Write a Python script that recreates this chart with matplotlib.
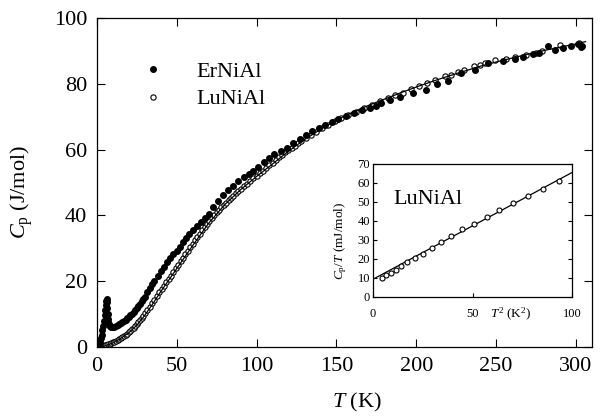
import matplotlib
matplotlib.use("Agg")
import matplotlib.pyplot as plt

plt.rcParams['font.family'] = ['Liberation Serif', 'DejaVu Serif']
plt.rcParams['mathtext.fontset'] = 'custom'
plt.rcParams['mathtext.rm'] = 'Liberation Serif'
plt.rcParams['mathtext.it'] = 'Liberation Serif:italic'

# ---------------- main panel data ----------------
er_T = [1.5, 2, 2.5, 3, 3.5, 4, 4.5, 5, 5.3, 5.6, 5.9, 6.1, 6.3, 6.5, 6.7, 6.9, 7.2, 7.6, 8, 8.5,
        9, 9.5, 10, 11, 12, 13, 14, 15, 16, 17, 18, 19, 20, 21, 22, 23, 24, 25, 26, 27,
        28, 29, 30, 31.5, 33, 34.5, 36, 38, 40, 42, 44, 46, 48, 50, 52, 54, 56, 58, 60, 62.5,
        65, 67.5, 70, 73, 76, 79, 82, 85, 88.5, 92, 95.5, 98, 101, 104.5, 107.5, 111, 115, 119, 123, 127,
        131, 135, 139, 143, 147, 151, 156, 161, 166, 171, 175, 178, 183.5, 190, 198, 206, 212.7, 220, 228, 236.7,
        245, 254, 262, 267, 273, 277, 282.7, 287, 292, 297, 301, 303, 304]
er_Cp = [0.8, 1.6, 2.6, 3.7, 5.0, 6.5, 8.0, 9.7, 11.2, 12.7, 14.0, 14.6, 13.6, 11.8, 10.0, 8.6, 7.6, 6.9, 6.5, 6.3,
         6.2, 6.1, 6.1, 6.2, 6.4, 6.6, 6.9, 7.2, 7.5, 7.9, 8.3, 8.7, 9.1, 9.6, 10.1, 10.7, 11.3, 11.9, 12.5, 13.2,
         13.9, 14.6, 15.3, 16.6, 17.8, 19.0, 20.1, 21.5, 23.0, 24.4, 25.7, 27.0, 28.2, 29.3, 30.5, 31.8, 33.0, 34.3, 35.5, 36.8,
         37.9, 39.2, 40.4, 42.6, 44.5, 46.3, 47.6, 48.9, 50.3, 51.6, 52.6, 53.5, 54.7, 56.2, 57.3, 58.5, 59.5, 60.6, 62.0, 63.3,
         64.4, 65.5, 66.4, 67.4, 68.3, 69.2, 70.2, 71.2, 72.0, 72.6, 73.2, 74.2, 75.2, 76.0, 77.2, 78.2, 79.8, 80.8, 83.3, 84.3,
         86.4, 86.8, 87.6, 88.1, 89.1, 89.3, 91.6, 90.3, 91.0, 91.5, 92.0, 91.3, 91.6]

lu_T = [2, 3, 4, 5, 6, 7, 8, 9, 10, 11, 12, 13, 14, 15, 16, 17, 18, 19, 20, 21,
        22, 23, 24, 25, 26, 27, 28, 29, 30, 31.5, 33, 34.5, 36, 37.5, 39, 40.5, 42, 43.5, 45, 46.5,
        48, 49.5, 51, 52.5, 54, 55.5, 57, 58.5, 60, 61.5, 63, 64.5, 66, 67.5, 69, 70.5, 72, 73.5, 75, 76.5,
        78, 79.5, 81, 82.5, 84, 85.5, 87, 88.5, 90, 92, 94, 96, 98, 100, 102, 104, 106, 108, 110, 112,
        114, 116, 118, 120, 122, 124, 126, 128, 131, 134, 137, 141, 145, 149, 153, 157, 162, 167, 172, 177,
        182, 187, 192, 197, 202, 207, 212, 218, 222, 226, 230, 236, 240, 243, 249, 256, 262, 269, 275, 279,
        290, 302]
lu_Cp = [0.1, 0.2, 0.3, 0.45, 0.6, 0.8, 1.0, 1.2, 1.4, 1.6, 1.9, 2.2, 2.5, 2.8, 3.1, 3.4, 3.7, 4.0, 4.4, 4.9,
         5.4, 5.9, 6.5, 7.0, 7.6, 8.2, 8.9, 9.5, 10.2, 11.2, 12.2, 13.3, 14.4, 15.5, 16.6, 17.6, 18.6, 19.6, 20.6, 21.7,
         22.8, 23.9, 25.0, 26.0, 27.1, 28.2, 29.3, 30.4, 31.4, 32.4, 33.4, 34.4, 35.4, 36.4, 37.4, 38.3, 39.2, 40.0, 40.9, 41.7,
         42.5, 43.2, 43.9, 44.6, 45.3, 46.0, 46.7, 47.4, 48.0, 48.8, 49.6, 50.4, 51.2, 52.0, 52.8, 53.6, 54.4, 55.2, 56.0, 56.8,
         57.6, 58.4, 59.1, 59.8, 60.5, 61.2, 61.9, 62.5, 63.5, 64.5, 65.4, 66.5, 67.6, 68.6, 69.5, 70.4, 71.5, 72.6, 73.6, 74.7,
         75.6, 76.5, 77.3, 78.4, 79.3, 80.2, 81.0, 82.2, 82.8, 83.6, 84.3, 85.3, 85.8, 86.4, 87.2, 87.5, 88.2, 88.6, 89.4, 89.9,
         91.9, 92.4]

fit_T = [0, 5, 10, 15, 20, 25, 30, 35, 40, 45, 50, 60, 70, 80, 90, 100, 110, 120, 130, 140,
         150, 160, 170, 180, 190, 200, 210, 220, 230, 240, 250, 260, 270, 280, 290, 300, 306]
fit_Cp = [0, 0.3, 1.2, 2.6, 4.3, 6.6, 9.6, 13.1, 16.8, 20.3, 23.8, 30.8, 37.6, 43.2, 47.8, 51.8, 55.6, 59.5, 63.0, 66.1,
          68.9, 71.3, 73.4, 75.3, 77.2, 79.0, 80.7, 82.3, 83.8, 85.3, 86.6, 87.8, 89.0, 90.1, 91.1, 92.1, 92.8]

x_ticks = [0, 50, 100, 150, 200, 250, 300]
y_ticks = [0, 20, 40, 60, 80, 100]

# ---------------- inset data ----------------
ins_T2 = [4.3, 6.5, 8.8, 11.3, 14.0, 17.3, 21.0, 25.2, 29.7, 34.3, 39.3, 44.8, 50.5, 57.0, 63.5, 70.5, 77.7, 85.2, 93.2]
ins_CpT = [10.2, 11.4, 12.5, 14.1, 16.5, 18.4, 20.7, 22.7, 25.9, 28.8, 32.0, 35.5, 38.6, 42.1, 45.7, 49.5, 53.2, 56.8, 61.2]
ins_fit_T2 = [0, 100]
ins_fit_CpT = [9.3, 65.5]
ins_x_ticks = [0, 50, 100]
ins_y_ticks = [0, 10, 20, 30, 40, 50, 60, 70]

fig = plt.figure(figsize=(6.09, 4.17), dpi=100)
ax = fig.add_axes([0.159, 0.168, 0.813, 0.789])

ax.plot(lu_T, lu_Cp, linestyle='none', marker='o', markersize=3.8, markerfacecolor='white',
        markeredgecolor='black', markeredgewidth=0.8, label='LuNiAl', zorder=2)
ax.plot(fit_T, fit_Cp, color='black', linewidth=0.9, zorder=3)
ax.plot(er_T, er_Cp, linestyle='none', marker='o', markersize=4.0, color='black', label='ErNiAl', zorder=4)

ax.set_xlim(0, 310)
ax.set_ylim(0, 100)
ax.set_xticks(x_ticks)
ax.set_yticks(y_ticks)
ax.tick_params(direction='in', length=6, width=0.8, top=True, right=True, labelsize=16, pad=7)
for s in ax.spines.values():
    s.set_linewidth(0.9)
ax.set_xlabel(r'$T$ (K)', fontsize=16)
ax.xaxis.set_label_coords(0.525, -0.135)
ax.set_ylabel(r'$C_\mathrm{p}$ (J/mol)', fontsize=16)
ax.yaxis.set_label_coords(-0.125, 0.47)

h, l = ax.get_legend_handles_labels()
ax.legend([h[1], h[0]], [l[1], l[0]], loc='upper left', bbox_to_anchor=(0.05, 0.93),
          frameon=False, fontsize=16, handlelength=1.0, handletextpad=1.45, labelspacing=0.33,
          markerscale=1.0)

ins = fig.add_axes([0.6125, 0.288, 0.327, 0.319])
ins.plot(ins_fit_T2, ins_fit_CpT, color='black', linewidth=0.9, zorder=2)
ins.plot(ins_T2, ins_CpT, linestyle='none', marker='o', markersize=3.6, markerfacecolor='white',
         markeredgecolor='black', markeredgewidth=0.8, zorder=3)
ins.set_xlim(0, 100)
ins.set_ylim(0, 70)
ins.set_xticks(ins_x_ticks)
ins.set_yticks(ins_y_ticks)
ins.tick_params(direction='in', length=3, width=0.8, right=True, labelsize=9, pad=2)
ins.tick_params(axis='x', pad=8)
for s in ins.spines.values():
    s.set_linewidth(0.9)
ins.set_ylabel(r'$C_\mathrm{p}/T$ (mJ/mol)', fontsize=9.5, labelpad=1)
ins.yaxis.set_label_coords(-0.12, 0.42)
ins.text(0.69, -0.13, r'$T^2$ (K$^2$)', transform=ins.transAxes, fontsize=9.5,
         ha='center', va='center')
ins.text(0.10, 0.73, 'LuNiAl', transform=ins.transAxes, fontsize=16, ha='left', va='center')

fig.savefig('out.png', dpi=100)
